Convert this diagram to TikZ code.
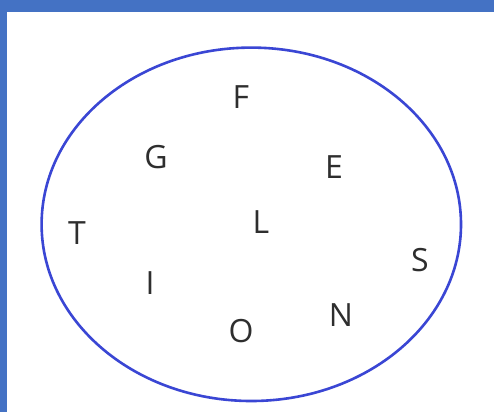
\documentclass[tikz,border=0pt]{standalone}
\usepackage{fontspec}
\newfontfamily\lettfont{Open Sans}
\definecolor{bandblue}{HTML}{4472C4}
\definecolor{ringblue}{HTML}{3A46D4}
\tikzset{
    letter/.style={font=\lettfont\fontsize{32}{32}\selectfont, text=black!82, inner sep=0pt, anchor=center}
}
\begin{document}
\begin{tikzpicture}[x=1pt,y=-1pt]

    % 1. 画布与蓝色边框
    \useasboundingbox (0,0) rectangle (494,412);
    \fill[white] (0,0) rectangle (494,412);
    \fill[bandblue] (0,0) rectangle (494,12);
    \fill[bandblue] (0,0) rectangle (6.5,412);

    % 2. 集合 (椭圆)
    \coordinate (C) at (251.3,224.3);
    \draw[ringblue, line width=2.6pt] (C) ellipse [x radius=209.7, y radius=176.7];

    % 3. 元素
    \node[letter] (F) at (241,97) {F};
    \node[letter] (G) at (156,157) {G};
    \node[letter] (E) at (334,167) {E};
    \node[letter] (T) at (77,233) {T};
    \node[letter] (L) at (261,222) {L};
    \node[letter] (S) at (420,260) {S};
    \node[letter] (I) at (150,283) {I};
    \node[letter] (N) at (341,315) {N};
    \node[letter] (O) at (241,331) {O};

\end{tikzpicture}
\end{document}
